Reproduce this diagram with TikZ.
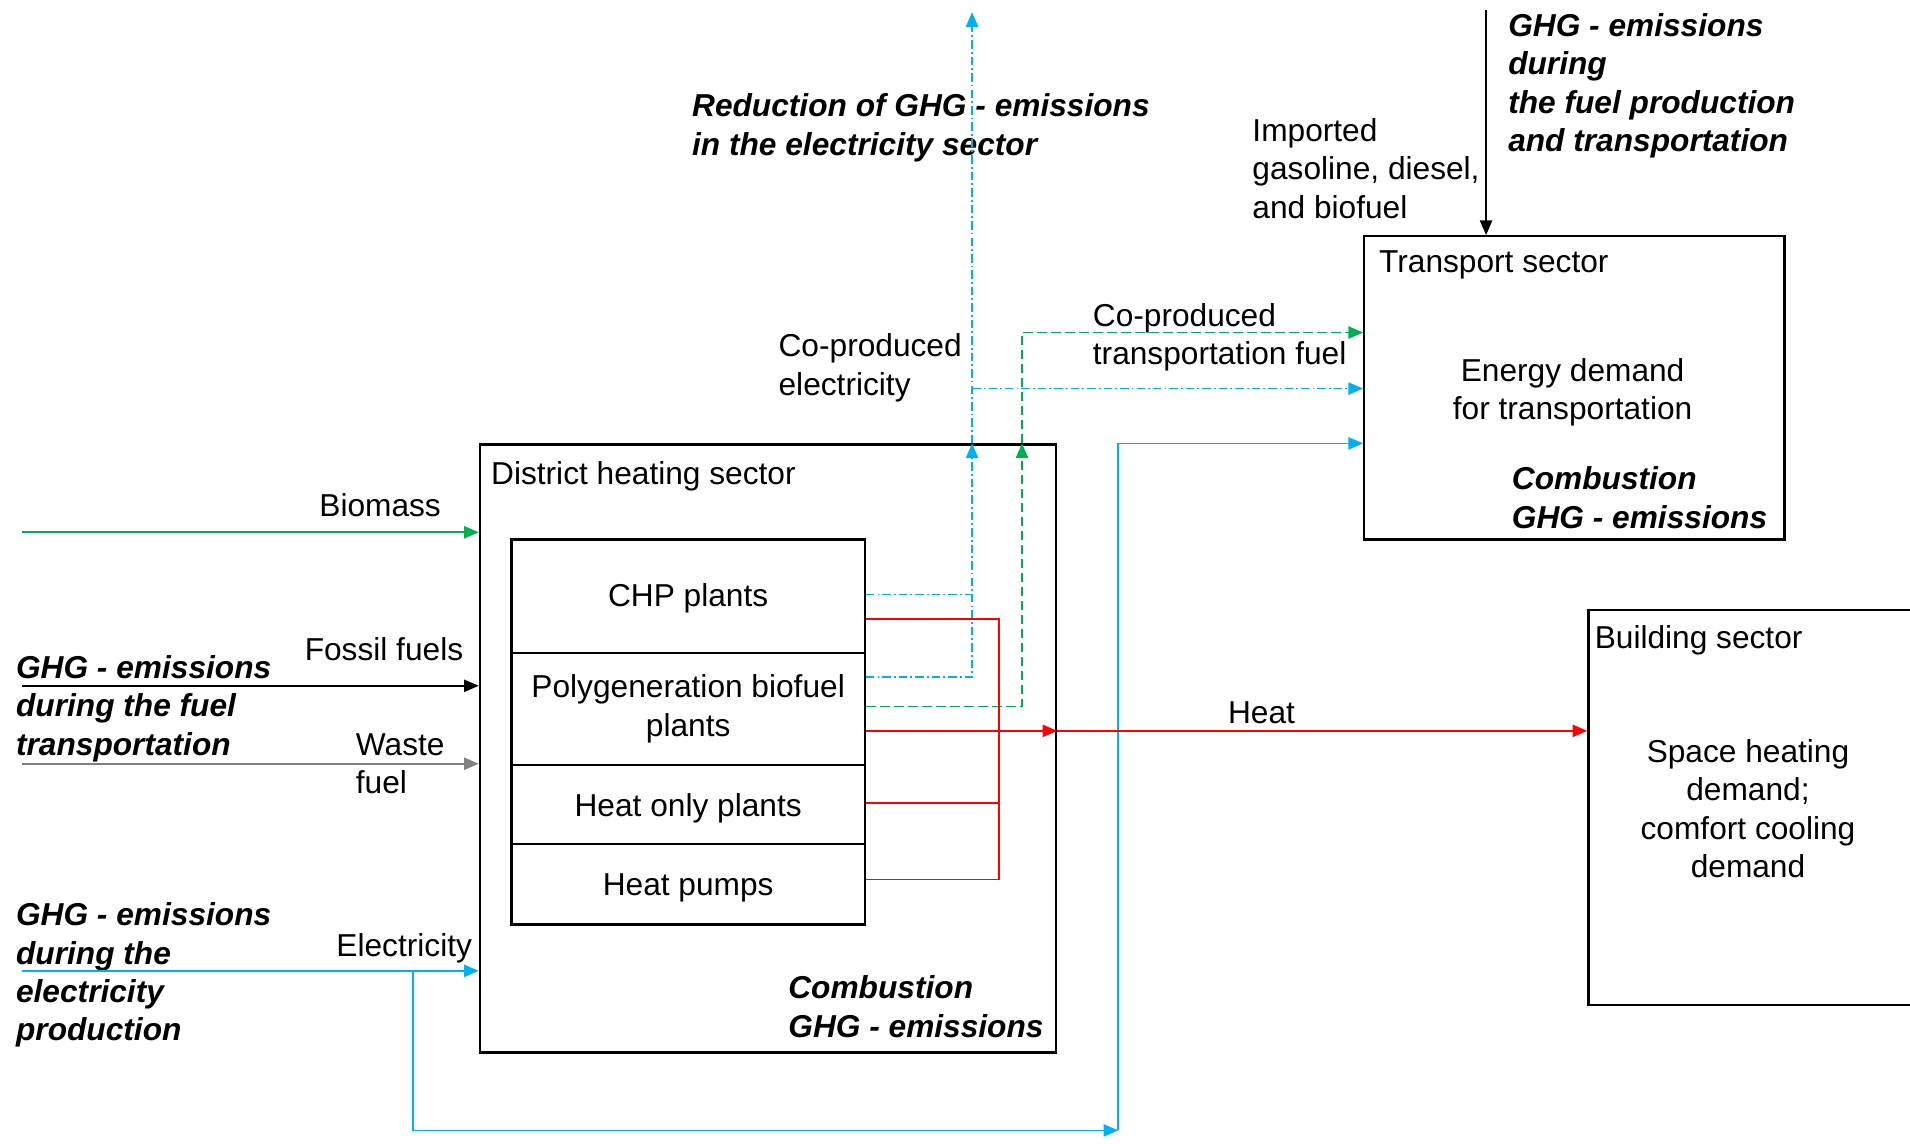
\documentclass[tikz,border=0pt]{standalone}
\usepackage{fontspec}
\setmainfont{Liberation Sans}
\usetikzlibrary{arrows.meta}
\definecolor{eblue}{HTML}{00B0F0}
\definecolor{egreen}{HTML}{00B050}
\definecolor{ered}{HTML}{FF0000}
\definecolor{egray}{HTML}{808080}
\begin{document}
\begin{tikzpicture}[x=1pt,y=-1pt,
  txt/.style={font=\fontsize{26}{31.5}\selectfont, inner sep=0pt, align=left, anchor=north west},
  btxt/.style={txt, font=\fontsize{26}{31.5}\selectfont\bfseries\itshape},
  sbox/.style={draw=black, line width=1.9pt, inner sep=0pt, anchor=north west},
  ibox/.style={sbox, minimum width=290, font=\fontsize{26}{31.5}\selectfont, align=center},
  tip/.style={-{Triangle[length=12pt,width=10pt]}},
  conn/.style={line width=1.35pt},
  bluel/.style={conn, draw=eblue},
  bdd/.style={conn, draw=eblue, dash pattern=on 7pt off 2.5pt on 1.5pt off 2.5pt},
  gdash/.style={conn, draw=egreen, dash pattern=on 8pt off 3.5pt},
  redl/.style={conn, draw=ered},
]
\useasboundingbox (0,0) rectangle (1568,939);
\clip (0,0) rectangle (1568,939);

% main boxes
\node[sbox, minimum width=473, minimum height=499] (dh) at (393,364) {};
\node[sbox, minimum width=345, minimum height=249] (ts) at (1119,193) {};
\node[sbox, minimum width=272, minimum height=324] (bs) at (1303,500) {};

% inner boxes
\node[ibox, minimum height=93] (chp) at (419,442) {\raisebox{-1.5pt}[\height][\depth]{CHP plants}};
\node[ibox, minimum height=92] (poly) at (419,535) {Polygeneration biofuel\\plants};
\node[ibox, minimum height=65] (ho) at (419,627) {\raisebox{-3pt}[\height][\depth]{Heat only plants}};
\node[ibox, minimum height=66] (hp) at (419,692) {\raisebox{-3pt}[\height][\depth]{Heat pumps}};

% texts
\node[btxt] (redtxt) at (568,77) {Reduction of GHG - emissions\\in the electricity sector};
\node[txt] (imp) at (1028,97) {Imported\\gasoline, diesel,\\and biofuel};
\node[btxt] (ghgfp) at (1238,11) {GHG - emissions\\during\\the fuel production\\and transportation};
\node[txt] (tsl) at (1132,206) {Transport sector};
\node[txt, align=center, anchor=north] (tsd) at (1291,294) {Energy demand\\for transportation};
\node[btxt] (tsc) at (1241,383) {Combustion\\GHG - emissions};
\node[txt] (cpf) at (897,249) {Co-produced\\transportation fuel};
\node[txt] (cpe) at (639,274) {Co-produced\\electricity};
\node[txt] (dhl) at (403,379) {District heating sector};
\node[txt] (bio) at (262,405) {Biomass};
\node[txt] (fos) at (250,523) {Fossil fuels};
\node[btxt] (ghgft) at (13,538) {GHG - emissions\\during the fuel\\transportation};
\node[txt] (was) at (292,602) {Waste\\fuel};
\node[btxt] (ghgep) at (13,741) {GHG - emissions\\during the\\electricity\\production};
\node[txt] (ele) at (276,766) {Electricity};
\node[btxt] (dhc) at (647,801) {Combustion\\GHG - emissions};
\node[txt] (heat) at (1008,576) {Heat};
\node[txt] (bsl) at (1309,513) {Building sector};
\node[txt, align=center, anchor=north] (bsd) at (1435,607) {Space heating\\demand;\\comfort cooling\\demand};

% free ends
\coordinate (bioS) at (18,437);
\coordinate (fosS) at (18,563);
\coordinate (wasS) at (18,627);
\coordinate (eleS) at (18,797);
\coordinate (eleB) at (339,797);
\coordinate (eleC) at (918,928);
\coordinate (bv) at (798,10);
\coordinate (gv) at (839,10);
\coordinate (rv) at (820,10);
\coordinate (ghgTop) at (1220,8);

% inputs
\draw[conn, draw=egreen, tip, fill=egreen] (bioS) -- (bioS -| dh.west);
\draw[conn, draw=black, tip] (fosS) -- (fosS -| dh.west);
\draw[conn, draw=egray, tip, fill=egray] (wasS) -- (wasS -| dh.west);
\draw[bluel, tip] (eleS) -- (eleS -| dh.west);
\draw[bluel, tip] (eleB) |- (eleC);
\draw[bluel, tip] (eleC) |- (ts.west |- 0,364);

% co-produced electricity
\draw[bdd] (chp.east |- 0,488) -- (bv |- 0,488);
\draw[bdd, tip] (poly.east |- 0,556) -| (dh.north -| bv);
\draw[bdd, tip] (dh.north -| bv) -- (bv);
\draw[bdd, tip] (bv |- 0,319) -- (ts.west |- 0,319);

% co-produced transportation fuel
\draw[gdash, tip] (poly.east |- 0,580) -| (dh.north -| gv);
\draw[gdash, tip] (dh.north -| gv) |- (ts.west |- 0,273);

% heat
\draw[redl] (chp.east |- 0,508) -| (rv |- 0,722) -- (hp.east |- 0,722);
\draw[redl] (ho.east |- 0,659) -- (rv |- 0,659);
\draw[redl, tip] (poly.east |- 0,600) -- (dh.east |- 0,600);
\draw[redl, tip] (dh.east |- 0,600) -- (bs.west |- 0,600);

% fuel production emissions
\draw[conn, draw=black, tip] (ghgTop) -- (ghgTop |- ts.north);
\end{tikzpicture}
\end{document}
